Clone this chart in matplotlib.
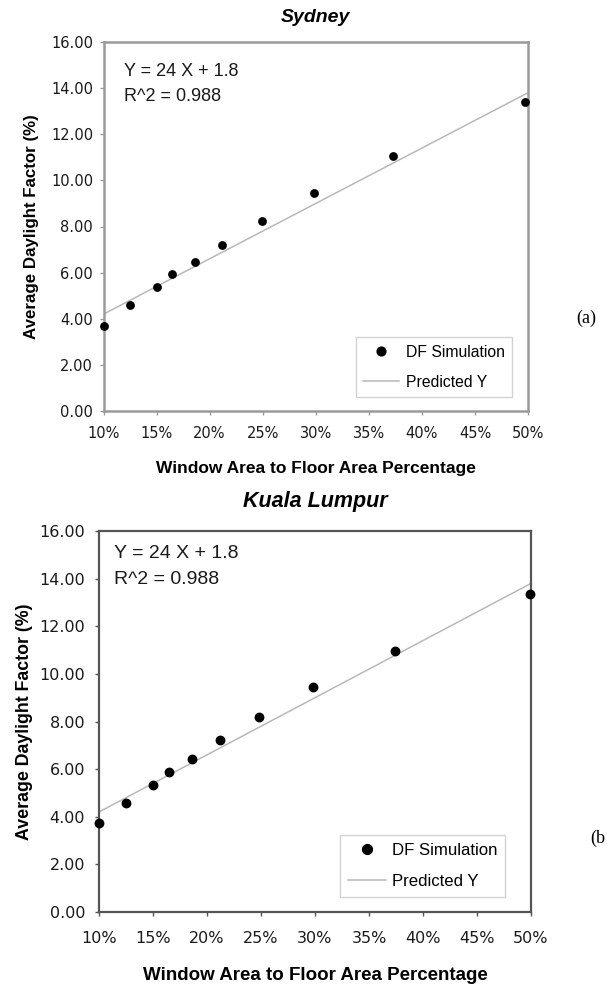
import matplotlib.pyplot as plt
from matplotlib.ticker import PercentFormatter, MultipleLocator
from matplotlib.lines import Line2D

plt.rcParams['font.family'] = ['Liberation Sans', 'DejaVu Sans']

# window-to-floor area ratio (fraction) and simulated average daylight factor (%)
sydney_x = [0.10, 0.125, 0.15, 0.165, 0.186, 0.212, 0.249, 0.298, 0.373, 0.497]
sydney_df = [3.70, 4.59, 5.39, 5.94, 6.48, 7.20, 8.23, 9.45, 11.04, 13.40]

kl_x = [0.10, 0.125, 0.15, 0.165, 0.186, 0.212, 0.248, 0.298, 0.374, 0.499]
kl_df = [3.72, 4.56, 5.32, 5.88, 6.43, 7.22, 8.20, 9.45, 10.98, 13.35]

slope, intercept = 24, 1.8
r2 = 0.988
fit_x = [0.10, 0.50]

# the second panel is rendered a bit larger in the original, so sizes are per panel
panels = [
    dict(title="Sydney", x=sydney_x, y=sydney_df, tag="(a)", tag_xy=(576, 318),
         rect=(103.5, 42, 528, 411), spine="#9a9a9a", spine_w=1.8, s=40,
         tick_fs=10.5, xpad=8, ypad=4.5, label_fs=12.2, xlabel_fs=12.5,
         title_fs=14, title_y=18, eq_fs=13, eq_x=123.5, eq_y=(71.7, 96.7),
         ylabel_x=32, xlabel_y=468, leg_fs=11.3, leg_anchor=(512, 397),
         leg_space=0.95, leg_hl=2.3, leg_tp=0.42),
    dict(title="Kuala Lumpur", x=kl_x, y=kl_df, tag="(b", tag_xy=(590, 838),
         rect=(99, 531, 531, 912), spine="#555555", spine_w=1.6, s=50,
         tick_fs=11.5, xpad=10.5, ypad=7, label_fs=12.8, xlabel_fs=13.5,
         title_fs=15.5, title_y=502, eq_fs=14, eq_x=114, eq_y=(553, 580),
         ylabel_x=25, xlabel_y=975, leg_fs=12.1, leg_anchor=(505, 897),
         leg_space=0.95, leg_hl=2.25, leg_tp=0.36),
]

W, H = 607, 984
fig = plt.figure(figsize=(W / 100, H / 100), dpi=100)

for p in panels:
    x0, y0, x1, y1 = p["rect"]
    ax = fig.add_axes([x0 / W, 1 - y1 / H, (x1 - x0) / W, (y1 - y0) / H])
    # pixel -> axes fraction helpers
    fx = lambda px: (px - x0) / (x1 - x0)
    fy = lambda py: (y1 - py) / (y1 - y0)

    fit_y = [slope * v + intercept for v in fit_x]
    ax.plot(fit_x, fit_y, color="#b8b8b8", lw=1.1, zorder=2)
    ax.scatter(p["x"], p["y"], s=p["s"], color="black", lw=0, zorder=3, clip_on=False)

    ax.set_xlim(0.10, 0.50)
    ax.set_ylim(0, 16)
    ax.xaxis.set_major_locator(MultipleLocator(0.05))
    ax.xaxis.set_major_formatter(PercentFormatter(xmax=1, decimals=0))
    ax.yaxis.set_major_locator(MultipleLocator(2))
    ax.yaxis.set_major_formatter(lambda v, pos: f"{v:.2f}")
    for s in ax.spines.values():
        s.set_color(p["spine"])
        s.set_linewidth(p["spine_w"])
    ax.tick_params(direction="out", length=3, width=1, colors=p["spine"],
                   labelcolor="#1a1a1a", labelsize=p["tick_fs"])
    ax.tick_params(axis="x", pad=p["xpad"])
    ax.tick_params(axis="y", pad=p["ypad"])
    for lab in ax.get_xticklabels() + ax.get_yticklabels():
        lab.set_family("DejaVu Sans")

    ax.text(0.5, fy(p["title_y"]), p["title"], transform=ax.transAxes,
            ha="center", va="center", fontsize=p["title_fs"],
            fontweight="bold", style="italic")
    ax.set_xlabel("Window Area to Floor Area Percentage",
                  fontsize=p["xlabel_fs"], fontweight="bold")
    ax.xaxis.set_label_coords(0.5, fy(p["xlabel_y"]))
    ax.xaxis.label.set_va("center")
    ax.set_ylabel("Average Daylight Factor (%)", fontsize=p["label_fs"],
                  fontweight="bold")
    ax.yaxis.set_label_coords(fx(p["ylabel_x"]), 0.5)
    ax.yaxis.label.set_va("center")

    ax.text(fx(p["eq_x"]), fy(p["eq_y"][0]), f"Y = {slope} X + {intercept}",
            transform=ax.transAxes, fontsize=p["eq_fs"], va="center",
            ha="left", color="#1a1a1a")
    ax.text(fx(p["eq_x"]), fy(p["eq_y"][1]), f"R^2 = {r2}",
            transform=ax.transAxes, fontsize=p["eq_fs"], va="center",
            ha="left", color="#1a1a1a")

    handles = [
        Line2D([], [], marker="o", ls="none", color="black",
               markersize=p["s"] ** 0.5),
        Line2D([], [], color="#b8b8b8", lw=1.1),
    ]
    lx, ly = p["leg_anchor"]
    leg = ax.legend(handles, ["DF Simulation", "Predicted Y"], loc="lower right",
                    bbox_to_anchor=(fx(lx), fy(ly)), borderaxespad=0,
                    fontsize=p["leg_fs"], frameon=True, fancybox=False,
                    handlelength=p["leg_hl"], handletextpad=p["leg_tp"],
                    labelspacing=p["leg_space"], borderpad=0.47)
    leg.get_frame().set_edgecolor("#c8c8c8")
    leg.get_frame().set_linewidth(1.0)

    fig.text(p["tag_xy"][0] / W, 1 - p["tag_xy"][1] / H, p["tag"],
             fontsize=13, family="Liberation Serif", va="center", ha="left")

fig.savefig("out.png", dpi=100)
